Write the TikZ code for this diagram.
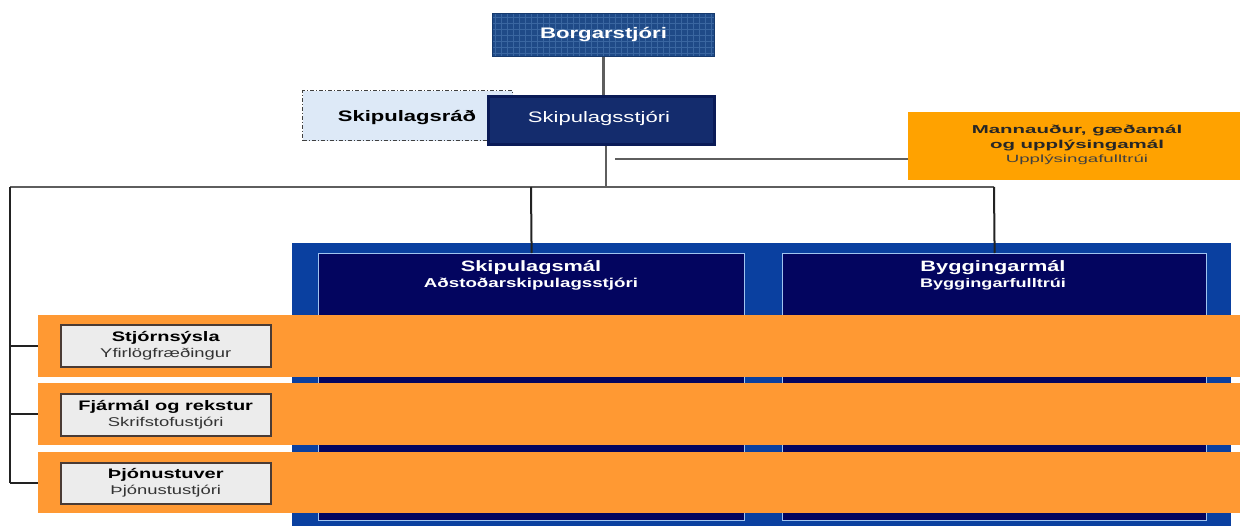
\documentclass[tikz,border=0pt]{standalone}
\usepackage{fontspec}
\setmainfont[FakeStretch=1.45]{Liberation Sans}
\newfontfamily\widefont[FakeStretch=1.78]{Liberation Sans}
\newcommand\fsx[2]{\fontsize{#1}{#2}\selectfont}
\definecolor{bossblue}{HTML}{1F4A87}
\definecolor{bossgrid}{HTML}{3A66A0}
\definecolor{bossedge}{HTML}{163A6E}
\definecolor{stjfill}{HTML}{142C6D}
\definecolor{stjedge}{HTML}{0A1B57}
\definecolor{radfill}{HTML}{DDE9F7}
\definecolor{mannorange}{HTML}{FFA200}
\definecolor{bandorange}{HTML}{FF9933}
\definecolor{outerblue}{HTML}{0A40A0}
\definecolor{innernavy}{HTML}{03055F}
\definecolor{innerline}{HTML}{A0C4F0}
\definecolor{grayfill}{HTML}{ECECEC}
\definecolor{grayedge}{HTML}{4A3B35}
\definecolor{linegray}{HTML}{5E5E5E}
\definecolor{linedark}{HTML}{222222}
\begin{document}
\begin{tikzpicture}[x=1pt,y=-1pt,
  rect/.style={rectangle, inner sep=0pt, anchor=north west},
  bossbox/.style={rect, fill=bossblue, draw=bossedge, line width=1pt,
    path picture={\draw[bossgrid, line width=0.5pt] (path picture bounding box.south west) grid[step=6pt] (path picture bounding box.north east);}},
  stjbox/.style={rect, fill=stjfill, draw=stjedge, line width=3pt},
  radbox/.style={rect, fill=radfill, draw=black!75, line width=1.2pt, dash pattern=on 4pt off 2pt on 1pt off 2pt},
  mannbox/.style={rect, fill=mannorange},
  outerbox/.style={rect, fill=outerblue},
  innerbox/.style={rect, fill=innernavy, draw=innerline, line width=1.2pt},
  bandbox/.style={rect, fill=bandorange},
  graybox/.style={rect, fill=grayfill, draw=grayedge, line width=1.5pt},
  txt/.style={inner sep=0pt, align=center},
  conn/.style={draw=linegray, line width=2.3pt},
  connl/.style={draw=linedark, line width=2pt}
]
\useasboundingbox (0,0) rectangle (1240,525);
\fill[white] (0,0) rectangle (1240,525);

% top
\node[bossbox, minimum width=222pt, minimum height=43pt] (borg) at (492,13) {};
\node[txt, text=white, font={\fsx{15.3}{17}\bfseries}] (borgt) at (borg.center) {Borgarstjóri};

\node[radbox, minimum width=210pt, minimum height=50pt] (rad) at (302,90) {};
\node[txt, font={\fsx{15.2}{17}\bfseries}] (radt) at (407,118) {Skipulagsráð};

\node[stjbox, minimum width=226pt, minimum height=48pt] (stj) at (487,95) {};
\node[txt, text=white, font={\fsx{15.2}{17}}] (stjt) at (599,118) {Skipulagsstjóri};

\node[mannbox, minimum width=332pt, minimum height=68pt] (mann) at (908,112) {};
\node[txt, text=black!85, font={\widefont\fsx{11.5}{14.5}}] (mannt) at (1077,145) {\bfseries Mannauður, gæðamál\\\bfseries og upplýsingamál\\\fsx{10.5}{14.5}\color{black!75}Upplýsingafulltrúi};

% connectors top
\draw[conn] (borg.south) -- (borg.south |- stj.north);
\coordinate (hub) at (606,187);
\coordinate (mstart) at (615,159);
\coordinate (L) at (10,187);
\coordinate (R) at (994,187);
\coordinate (M) at (531,187);
\draw[conn] (stj.south -| hub) -- (hub);
\draw[conn] (mstart) -- (mann.west |- mstart);
\draw[conn] (L) -- (R);

% blue area
\node[outerbox, minimum width=939pt, minimum height=290pt] (outer) at (292,243) {};
\node[innerbox, minimum width=426pt, minimum height=267pt] (skm) at (318,253) {};
\node[innerbox, minimum width=424pt, minimum height=267pt] (byg) at (782,253) {};
\node[txt, text=white, font={\fsx{15}{16}\bfseries}] (skmt) at (531,275) {Skipulagsmál\\\fsx{12.9}{16}Aðstoðarskipulagsstjóri};
\node[txt, text=white, font={\fsx{15}{16}\bfseries}] (bygt) at (993,275) {Byggingarmál\\\fsx{12.5}{16}Byggingarfulltrúi};
\draw[connl] (M) -- (skm.north);
\draw[connl] (R) -- (byg.north);

% bands
\node[bandbox, minimum width=1202pt, minimum height=62pt] (band1) at (38,315) {};
\node[bandbox, minimum width=1202pt, minimum height=62pt] (band2) at (38,383) {};
\node[bandbox, minimum width=1202pt, minimum height=61pt] (band3) at (38,452) {};

\node[graybox, minimum width=210pt, minimum height=42pt] (g1) at (60,324) {};
\node[graybox, minimum width=210pt, minimum height=42pt] (g2) at (60,393) {};
\node[graybox, minimum width=210pt, minimum height=41pt] (g3) at (60,462) {};
\node[txt, font={\fsx{13.8}{16}\bfseries}] (g1t) at (g1.center) {Stjórnsýsla\\\fsx{12.7}{16}\mdseries\color{black!80}Yfirlögfræðingur};
\node[txt, font={\fsx{13.8}{16}\bfseries}] (g2t) at (g2.center) {Fjármál og rekstur\\\fsx{12.7}{16}\mdseries\color{black!80}Skrifstofustjóri};
\node[txt, font={\fsx{13.8}{16}\bfseries}] (g3t) at (g3.center) {Þjónustuver\\\fsx{12.7}{16}\mdseries\color{black!80}Þjónustustjóri};

% left connectors
\draw[connl] (L) -- (L |- band3.west);
\draw[connl] (L |- band1.west) -- (band1.west);
\draw[connl] (L |- band2.west) -- (band2.west);
\draw[connl] (L |- band3.west) -- (band3.west);
\end{tikzpicture}
\end{document}
